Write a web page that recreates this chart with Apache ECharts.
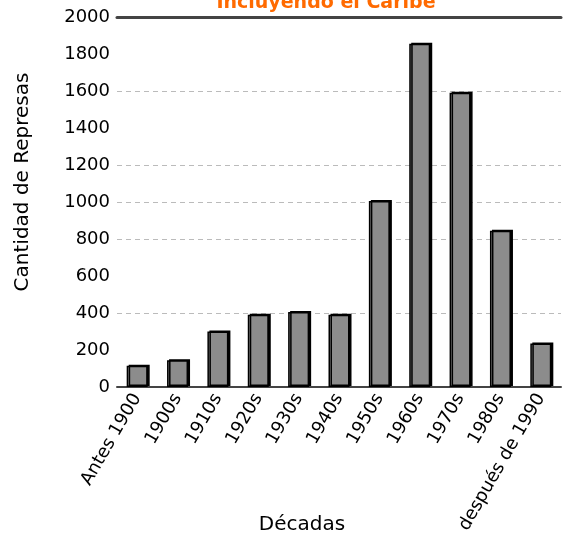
<!DOCTYPE html>
<html>
<head>
<meta charset="utf-8">
<style>
  html, body { margin: 0; padding: 0; background: #fff; }
  #chart { width: 563px; height: 541px; }
</style>
<script src="https://cdn.jsdelivr.net/npm/echarts@6/dist/echarts.min.js"></script>
</head>
<body>
<div id="chart"></div>
<script>
// Dams built per decade
const decades = ['Antes 1900', '1900s', '1910s', '1920s', '1930s', '1940s',
                 '1950s', '1960s', '1970s', '1980s', 'después de 1990'];
const damCounts = [115, 145, 300, 390, 405, 390, 1005, 1855, 1590, 845, 235];

// Only some horizontal reference lines are drawn (one colour per tick, from 0 up to 2000)
const gridColors = ['transparent', 'transparent', '#bbbbbb', 'transparent', '#bbbbbb',
                    '#bbbbbb', '#bbbbbb', 'transparent', '#bbbbbb', 'transparent', 'transparent'];

const FONT = 'DejaVu Sans';
const chart = echarts.init(document.getElementById('chart'));

chart.setOption({
  animation: false,
  backgroundColor: '#ffffff',
  title: {
    text: 'Incluyendo el Caribe',
    left: 321,
    textAlign: 'center',
    top: -11,
    textStyle: { color: '#ff6a00', fontFamily: FONT, fontWeight: 'bold', fontSize: 19 }
  },
  grid: { left: 117, right: 2, top: 17, bottom: 154, containLabel: false, outerBoundsMode: 'none' },
  xAxis: [{
    type: 'category',
    data: decades,
    position: 'bottom',
    axisLine: { lineStyle: { color: '#444', width: 2 } },
    axisTick: { show: false },
    axisLabel: {
      rotate: 60, margin: 8, color: '#000',
      fontFamily: FONT, fontSize: 18, interval: 0
    },
    name: 'Décadas',
    nameLocation: 'middle',
    nameGap: 128,
    nameMoveOverlap: false,
    nameTextStyle: { color: '#000', fontFamily: FONT, fontSize: 20, padding: [0, 74, 0, 0] }
  }, {
    type: 'category',
    data: decades,
    position: 'top',
    axisLine: { lineStyle: { color: '#444', width: 3 } },
    axisTick: { show: false },
    axisLabel: { show: false }
  }],
  yAxis: {
    type: 'value',
    min: 0, max: 2000, interval: 200,
    axisLine: { show: false },
    axisTick: { show: false },
    axisLabel: { color: '#000', fontFamily: FONT, fontSize: 18, margin: 7, formatter: v => String(v) },
    splitLine: { show: true, lineStyle: { type: [5, 4], color: gridColors, width: 1 } },
    name: 'Cantidad de Represas',
    nameLocation: 'middle',
    nameGap: 84,
    nameMoveOverlap: false,
    nameTextStyle: { color: '#000', fontFamily: FONT, fontSize: 20, padding: [0, 0, 0, 40] }
  },
  series: [{
    type: 'bar',
    data: damCounts,
    barWidth: 21,
    itemStyle: {
      color: '#8c8c8c',
      borderColor: '#000',
      borderWidth: 1.5,
      shadowColor: '#000',
      shadowOffsetX: 2,
      shadowOffsetY: -1,
      shadowBlur: 0
    }
  }]
});
</script>
</body>
</html>
